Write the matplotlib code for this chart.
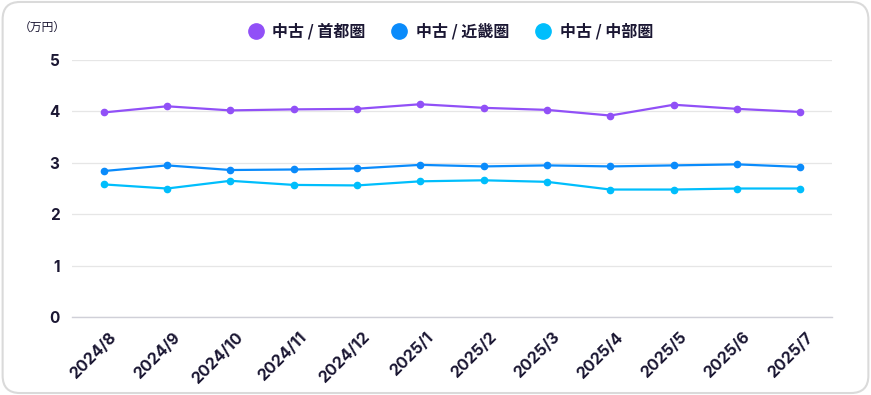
import matplotlib.pyplot as plt
import matplotlib.transforms as mtransforms
from matplotlib.patches import FancyBboxPatch
from matplotlib.lines import Line2D

# -----------------------------
# Data (万円)
# -----------------------------
months = ["2024/8", "2024/9", "2024/10", "2024/11", "2024/12", "2025/1",
          "2025/2", "2025/3", "2025/4", "2025/5", "2025/6", "2025/7"]

shutoken = [3.98, 4.10, 4.02, 4.04, 4.05, 4.14, 4.07, 4.03, 3.92, 4.13, 4.05, 3.99]
kinki = [2.84, 2.95, 2.86, 2.87, 2.89, 2.96, 2.93, 2.95, 2.93, 2.95, 2.97, 2.92]
chubu = [2.58, 2.50, 2.65, 2.57, 2.56, 2.64, 2.66, 2.63, 2.48, 2.48, 2.50, 2.50]

series_names = ["中古 / 首都圏", "中古 / 近畿圏", "中古 / 中部圏"]
colors = ["#9150F7", "#0A8BFB", "#00BEFC"]

text_color = "#1B1733"
fonts = ["Inter", "Noto Sans CJK JP", "DejaVu Sans"]
plt.rcParams["font.family"] = fonts

# -----------------------------
# Figure
# -----------------------------
fig = plt.figure(figsize=(8.71, 3.95), dpi=100)

# card border
card = FancyBboxPatch((0.003, 0.005), 0.994, 0.99,
                      boxstyle="round,pad=0,rounding_size=0.02",
                      transform=fig.transFigure, facecolor="none",
                      edgecolor="#DADADA", linewidth=1.5,
                      mutation_aspect=871 / 395, zorder=-1)
fig.patches.append(card)

ax = fig.add_axes([0.0827, 0.1975, 0.8725, 0.6505])
ax.set_facecolor("none")

x = list(range(len(months)))
for vals, c in zip([shutoken, kinki, chubu], colors):
    ax.plot(x, vals, color=c, linewidth=1.6, marker="o", markersize=4.5, zorder=3)

ax.set_xlim(-0.5, 11.5)
ax.set_ylim(0, 5)
ax.set_yticks([0, 1, 2, 3, 4, 5])
ax.set_yticklabels(["0", "1", "2", "3", "4", "5"], fontsize=11,
                   fontweight="bold", color=text_color)
ax.set_xticks(x)
ax.set_xticklabels(months, rotation=45, ha="right", rotation_mode="anchor",
                   fontsize=11.5, fontweight="bold", color=text_color)
ax.tick_params(axis="both", length=0)
ax.tick_params(axis="y", pad=9)
ax.tick_params(axis="x", pad=9)

# shift rotated labels a little to the right, as in the original
shift = mtransforms.ScaledTranslation(0.05, 0, fig.dpi_scale_trans)
for lbl in ax.get_xticklabels():
    lbl.set_transform(lbl.get_transform() + shift)

ax.grid(axis="y", color="#E6E6E6", linewidth=0.9)
ax.set_axisbelow(True)
for s in ["top", "right", "left"]:
    ax.spines[s].set_visible(False)
ax.spines["bottom"].set_color("#D0D0D8")
ax.spines["bottom"].set_linewidth(1.0)

# unit label
fig.text(0.021, 0.922, "（万円）", fontsize=8.5, color=text_color,
         family=["Noto Sans CJK JP", "DejaVu Sans"])

# legend
handles = [Line2D([], [], linestyle="none", marker="o", markersize=11,
                  markerfacecolor=c, markeredgecolor=c) for c in colors]
leg = fig.legend(handles, series_names, loc="center", ncol=3,
                 bbox_to_anchor=(0.517, 0.921), frameon=False,
                 handletextpad=0.55, columnspacing=1.6, handlelength=1.0,
                 prop={"family": ["Noto Sans CJK JP", "DejaVu Sans"],
                       "weight": "bold", "size": 11.5})
for t in leg.get_texts():
    t.set_color(text_color)

plt.savefig("out.png", dpi=100)
